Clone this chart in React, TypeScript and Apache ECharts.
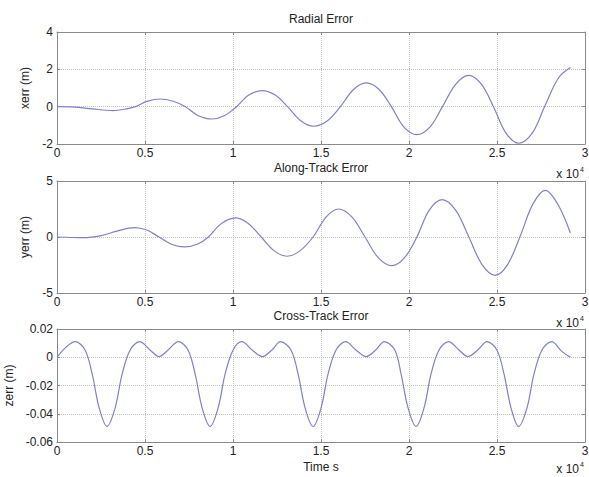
import React, { useEffect, useRef } from "react";
import * as echarts from "echarts";

// Time in units of 10^4 s
const radialT = [0, 0.1, 0.2, 0.32, 0.39, 0.445, 0.51, 0.587, 0.66, 0.73, 0.8, 0.88, 0.95, 1.02, 1.09, 1.165, 1.24, 1.31, 1.385, 1.458, 1.535, 1.61, 1.685, 1.757, 1.83, 1.9, 1.97, 2.045, 2.12, 2.19, 2.265, 2.339, 2.41, 2.48, 2.55, 2.623, 2.7, 2.77, 2.85, 2.917];
const radialV = [0, -0.02, -0.12, -0.21, -0.13, 0, 0.28, 0.41, 0.29, 0, -0.47, -0.66, -0.49, 0, 0.62, 0.86, 0.62, 0, -0.76, -1.05, -0.77, 0, 0.92, 1.27, 0.92, 0, -1.08, -1.5, -1.08, 0, 1.2, 1.68, 1.22, 0, -1.4, -1.96, -1.42, 0, 1.55, 2.1];

const alongT = [0, 0.15, 0.25, 0.34, 0.44, 0.51, 0.58, 0.65, 0.725, 0.8, 0.86, 0.93, 1.013, 1.085, 1.16, 1.235, 1.307, 1.38, 1.455, 1.53, 1.6, 1.675, 1.75, 1.825, 1.903, 1.975, 2.045, 2.115, 2.188, 2.265, 2.34, 2.415, 2.49, 2.56, 2.63, 2.705, 2.775, 2.845, 2.917];
const alongV = [0, -0.06, 0.12, 0.52, 0.84, 0.62, 0, -0.65, -0.89, -0.63, 0, 1.15, 1.7, 1.22, 0, -1.24, -1.72, -1.24, 0, 1.8, 2.5, 1.8, 0, -1.84, -2.56, -1.84, 0, 2.4, 3.34, 2.4, 0, -2.46, -3.42, -2.46, 0, 2.98, 4.17, 2.95, 0.36];

const crossT = [0, 0.05, 0.104, 0.16, 0.2, 0.24, 0.284, 0.33, 0.37, 0.415, 0.47, 0.53, 0.58, 0.63, 0.69, 0.745, 0.785, 0.825, 0.87, 0.915, 0.955, 1.0, 1.05, 1.11, 1.165, 1.22, 1.27, 1.33, 1.37, 1.41, 1.455, 1.5, 1.54, 1.585, 1.64, 1.7, 1.757, 1.81, 1.86, 1.92, 1.955, 1.995, 2.04, 2.085, 2.125, 2.17, 2.225, 2.285, 2.335, 2.39, 2.443, 2.5, 2.54, 2.58, 2.623, 2.67, 2.71, 2.755, 2.81, 2.87, 2.917];
const crossV = [0, 0.007, 0.011, 0.005, -0.012, -0.036, -0.049, -0.036, -0.012, 0.005, 0.011, 0.005, 0.0005, 0.005, 0.011, 0.005, -0.012, -0.036, -0.049, -0.036, -0.012, 0.005, 0.011, 0.005, 0.0005, 0.005, 0.011, 0.005, -0.012, -0.036, -0.049, -0.036, -0.012, 0.005, 0.011, 0.005, 0.0005, 0.005, 0.011, 0.005, -0.012, -0.036, -0.049, -0.036, -0.012, 0.005, 0.011, 0.005, 0.0005, 0.005, 0.011, 0.005, -0.012, -0.036, -0.049, -0.036, -0.012, 0.005, 0.011, 0.004, 0];

const titles = ["Radial Error", "Along-Track Error", "Cross-Track Error"];
const yNames = ["xerr (m)", "yerr (m)", "zerr (m)"];
const xTicks = { min: 0, max: 3, interval: 0.5 };
const yTicks = [
  { min: -2, max: 4, interval: 2 },
  { min: -5, max: 5, interval: 5 },
  { min: -0.06, max: 0.02, interval: 0.02 },
];
const multiplierText = "x 10";
const multiplierExp = "4";
const xName = "Time s";

const FONT = "Liberation Sans, Arial, sans-serif";
const TEXT = "#222";
const AXIS = "#8a8a8a";
const LINE = "#8080c8";

export default function App() {
  const ref = useRef<HTMLDivElement>(null);
  useEffect(() => {
    if (!ref.current) return;
    const chart = echarts.init(ref.current, undefined, { renderer: "svg" });
    const grids = [
      { left: 57, right: 4, top: 32, height: 112, outerBoundsMode: "none", containLabel: false },
      { left: 57, right: 4, top: 181, height: 112, outerBoundsMode: "none", containLabel: false },
      { left: 57, right: 4, top: 329, height: 113, outerBoundsMode: "none", containLabel: false },
    ];
    const nameGaps = [22, 22, 37];
    const xAxes: any[] = [];
    const yAxes: any[] = [];
    const fmtY = (i: number) => (v: number) => {
      if (Math.abs(v) < 1e-9) return "0";
      return i === 2 ? String(Math.round(v * 100) / 100) : String(v);
    };
    grids.forEach((_, i) => {
      xAxes.push({
        type: "value", gridIndex: i, position: "bottom", ...xTicks,
        axisLine: { show: true, onZero: false, lineStyle: { color: AXIS } },
        axisTick: { show: true, inside: true, length: 3, lineStyle: { color: AXIS } },
        axisLabel: { show: true, color: TEXT, fontFamily: FONT, fontSize: 12, margin: 3, formatter: (v: number) => String(v) },
        splitLine: { show: true, lineStyle: { color: "#c4c4c4", type: "dotted" } },
        name: i === 2 ? xName : "", nameLocation: "middle", nameGap: 19,
        nameTextStyle: { color: TEXT, fontFamily: FONT, fontSize: 12 },
      });
      xAxes.push({
        type: "value", gridIndex: i, position: "top", ...xTicks,
        axisLine: { show: true, onZero: false, lineStyle: { color: AXIS } },
        axisTick: { show: true, inside: true, length: 3, lineStyle: { color: AXIS } },
        axisLabel: { show: false }, splitLine: { show: false },
      });
      yAxes.push({
        type: "value", gridIndex: i, position: "left", ...yTicks[i],
        axisLine: { show: true, onZero: false, lineStyle: { color: AXIS } },
        axisTick: { show: true, inside: true, length: 3, lineStyle: { color: AXIS } },
        axisLabel: { show: true, color: TEXT, fontFamily: FONT, fontSize: 12, margin: 4, formatter: fmtY(i) },
        splitLine: { show: true, lineStyle: { color: "#c4c4c4", type: "dotted" } },
        name: yNames[i], nameLocation: "middle", nameGap: nameGaps[i], nameRotate: 90,
        nameTextStyle: { color: TEXT, fontFamily: FONT, fontSize: 12 },
      });
      yAxes.push({
        type: "value", gridIndex: i, position: "right", ...yTicks[i],
        axisLine: { show: true, onZero: false, lineStyle: { color: AXIS } },
        axisTick: { show: true, inside: true, length: 3, lineStyle: { color: AXIS } },
        axisLabel: { show: false }, splitLine: { show: false },
      });
    });
    const datasets = [
      radialT.map((t, k) => [t, radialV[k]]),
      alongT.map((t, k) => [t, alongV[k]]),
      crossT.map((t, k) => [t, crossV[k]]),
    ];
    const graphics: any[] = [];
    grids.forEach((g, i) => {
      graphics.push({
        type: "text", x: 321, y: g.top - 13,
        style: { text: titles[i], font: `12px ${FONT}`, fill: TEXT, textAlign: "center", textVerticalAlign: "middle" },
      });
      const by = Math.min(g.top + g.height + 30, 469);
      graphics.push({
        type: "text", x: 579, y: by,
        style: { text: multiplierText, font: `12px ${FONT}`, fill: TEXT, textAlign: "right", textVerticalAlign: "middle" },
      });
      graphics.push({
        type: "text", x: 580, y: by - 5,
        style: { text: multiplierExp, font: `7px ${FONT}`, fill: TEXT, textAlign: "left", textVerticalAlign: "middle" },
      });
    });
    chart.setOption({
      animation: false,
      backgroundColor: "#fff",
      grid: grids,
      xAxis: xAxes,
      yAxis: yAxes,
      graphic: graphics,
      series: datasets.map((d, i) => ({
        type: "line", xAxisIndex: i * 2, yAxisIndex: i * 2, data: d,
        showSymbol: false, symbol: "none", smooth: 0.35,
        lineStyle: { color: LINE, width: 1.2 },
      })),
    });
    return () => chart.dispose();
  }, []);
  return <div ref={ref} style={{ position: "fixed", left: 0, top: 0, width: 589, height: 477 }} />;
}
